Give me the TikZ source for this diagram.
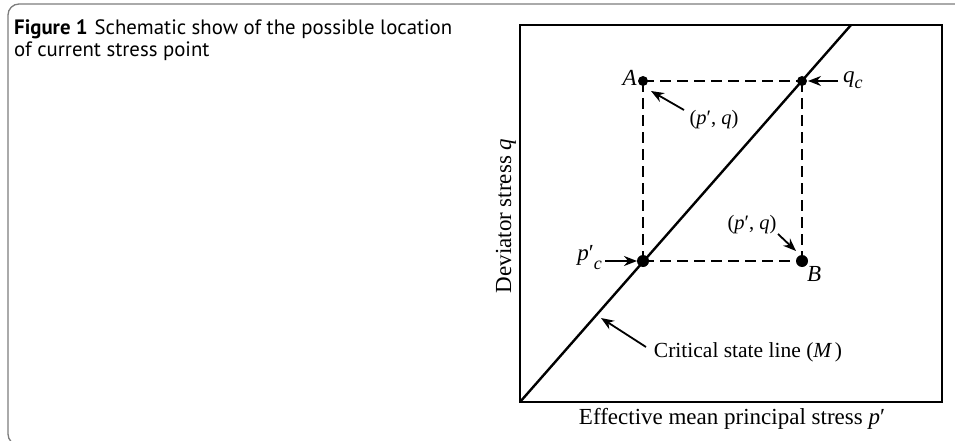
\documentclass[tikz,border=0pt]{standalone}
\usepackage{fontspec}
\setmainfont{Liberation Serif}
\newfontfamily\capfont{PT Sans}
\usetikzlibrary{arrows.meta}
\tikzset{
  lbl/.style={inner sep=0pt, font=\fontsize{23}{25}\selectfont},
  ptlbl/.style={inner sep=0pt, font=\fontsize{20.5}{23}\selectfont},
  pointer/.style={line width=1.8pt, -{Stealth[length=13pt,width=10pt]}},
  dashline/.style={line width=2.6pt, dash pattern=on 11pt off 6pt},
  dot/.style={circle, fill=black, inner sep=0pt, minimum size=#1},
}
\begin{document}
\begin{tikzpicture}[x=1pt,y=-1pt]
\useasboundingbox (0,0) rectangle (955,441);
\clip (0,0) rectangle (955,441);
% outer frame
\draw[line width=1.3pt, color={rgb,255:red,125;green,125;blue,125}, rounded corners=11pt] (8,4) rectangle (980,445);
% caption
\node[anchor=north west, inner sep=0pt, align=left, font=\capfont\fontsize{20.8}{22}\selectfont] (cap) at (14,19)
  {\textbf{Figure 1}\hspace{7pt}Schematic show of the possible location\\of current stress point};
% coordinates
\coordinate (O) at (520,402);
\coordinate (T) at (851,25);
\coordinate (A) at (643,81);
\coordinate (Q) at (802,81);
\coordinate (P) at (643,261);
\coordinate (B) at (802,261);
% box
\draw[line width=2.8pt] (520,25) rectangle (942,402);
% dashed square
\draw[dashline] (A) -- (Q);
\draw[dashline] (A) -- (P);
\draw[dashline] (P) -- (B);
\draw[dashline] (Q) -- (B);
% critical state line
\draw[line width=2.4pt] (O) -- (T);
% dots
\node[dot=10pt] (dA) at (A) {};
\node[dot=10pt] (dQ) at (Q) {};
\node[dot=12pt] (dP) at (P) {};
\node[dot=12pt] (dB) at (B) {};
% labels
\node[lbl, anchor=east] (lA) at (637,78) {\textit{A}};
\node[lbl, anchor=north west] (lB) at (807,266) {\textit{B}};
\node[lbl, anchor=west] (lq) at (843,80) {\textit{q}\raisebox{-6pt}{\fontsize{18}{18}\selectfont\textit{c}}};
\node[lbl, anchor=east] (lp) at (602,258) {\textit{p}′\raisebox{-9pt}{\fontsize{18}{18}\selectfont\textit{c}}};
\node[ptlbl] (pq1) at (714,120) {(\textit{p}′, \textit{q})};
\node[ptlbl] (pq2) at (752,225) {(\textit{p}′, \textit{q})};
\node[lbl, font=\fontsize{21.5}{24}\selectfont] (csl) at (748,352) {Critical state line (\textit{M\,})};
\node[lbl] (xl) at (732,419) {Effective mean principal stress \textit{p}′};
\node[lbl, rotate=90] (yl) at (506,216) {Deviator stress \textit{q}};
% pointers
\coordinate (qs) at (838,81);
\coordinate (qe) at (808,81);
\draw[pointer] (qs) -- (qe);
\coordinate (ps) at (605,261);
\coordinate (pe) at (637,261);
\draw[pointer] (ps) -- (pe);
\coordinate (as) at (684,110);
\coordinate (ae) at (651,91);
\draw[pointer] (as) -- (ae);
\coordinate (bs) at (778,234);
\coordinate (be) at (796,251);
\draw[pointer] (bs) -- (be);
\coordinate (cs) at (646,347);
\coordinate (ce) at (601,318);
\draw[pointer] (cs) -- (ce);
\end{tikzpicture}
\end{document}
